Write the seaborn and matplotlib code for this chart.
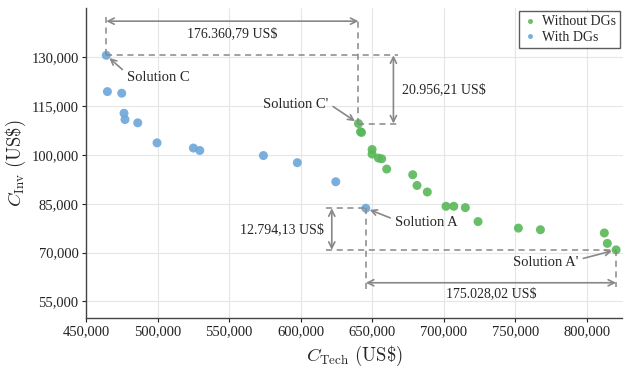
import pandas as pd
import seaborn as sns
import matplotlib.pyplot as plt
from matplotlib.ticker import FuncFormatter

# Pareto points
with_x = [464000, 464800, 474800, 476400, 477100, 486000, 499500, 524900, 529400,
          573900, 597600, 624500, 645500]
with_y = [130600, 119450, 118950, 112800, 110860, 109850, 103700, 102100, 101350,
          99800, 97600, 91750, 83600]
without_x = [640361, 641800, 642500, 649900, 649900, 654300, 656600, 660100, 678300,
             681300, 688500, 701600, 707000, 715100, 724000, 752200, 767600, 812300,
             814400, 820528]
without_y = [109644, 107100, 106900, 101650, 100250, 99020, 98800, 95650, 93900,
             90600, 88600, 84200, 84200, 83800, 79500, 77500, 77000, 76000, 72800,
             70806]

x_ticks = [450000, 500000, 550000, 600000, 650000, 700000, 750000, 800000]
y_ticks = [55000, 70000, 85000, 100000, 115000, 130000]

df = pd.concat([
    pd.DataFrame({'x': without_x, 'y': without_y, 'Case': 'Without DGs'}),
    pd.DataFrame({'x': with_x, 'y': with_y, 'Case': 'With DGs'}),
])

sns.set_theme(style='whitegrid')
plt.rcParams['font.family'] = ['Liberation Serif', 'DejaVu Serif']
plt.rcParams['mathtext.fontset'] = 'cm'

fig = plt.figure(figsize=(6.25, 3.68), dpi=100)
ax = fig.add_axes([0.138, 0.137, 0.858, 0.84])

sns.scatterplot(data=df, x='x', y='y', hue='Case',
                palette={'Without DGs': '#58b858', 'With DGs': '#6ca7da'},
                s=42, alpha=0.9, edgecolor='none', ax=ax)

ax.set_xlim(450000, 825000)
ax.set_ylim(50000, 145000)
ax.set_xticks(x_ticks)
ax.set_yticks(y_ticks)
fmt = FuncFormatter(lambda v, p: f'{int(v):,}')
ax.xaxis.set_major_formatter(fmt)
ax.yaxis.set_major_formatter(fmt)
ax.tick_params(labelsize=10.5, colors='#222222', length=3, width=0.8, direction='out',
               left=True, bottom=True, pad=2.5)
ax.grid(color='#e6e6e6', linewidth=0.8)
for side in ['top', 'right']:
    ax.spines[side].set_visible(False)
for side in ['left', 'bottom']:
    ax.spines[side].set_color('#444444')
    ax.spines[side].set_linewidth(1.0)

ax.set_xlabel(r'$C_{\mathrm{Tech}}\ (\mathrm{US\$})$', fontsize=13.5, labelpad=4)
ax.set_ylabel(r'$C_{\mathrm{Inv}}\ (\mathrm{US\$})$', fontsize=13.5, labelpad=2)

leg = ax.legend(loc='upper right', fontsize=10, markerscale=0.55, frameon=True,
                fancybox=False, borderpad=0.3, handletextpad=0.3, handlelength=1.0,
                labelspacing=0.2, borderaxespad=0.2)
leg.get_frame().set_edgecolor('#333333')
leg.get_frame().set_linewidth(1.0)

gray = '#888888'
dash = dict(color=gray, linestyle=(0, (4, 3)), linewidth=1.1, zorder=1)
arr = dict(arrowstyle='<->', color=gray, lw=1.2, mutation_scale=11,
           shrinkA=0, shrinkB=0)

C = (with_x[0], with_y[0])
Cp = (without_x[0], without_y[0])
A = (with_x[-1], with_y[-1])
Ap = (without_x[-1], without_y[-1])

# C -> C' horizontal distance
ax.plot([C[0], C[0]], [C[1], 142400], **dash)
ax.plot([Cp[0], Cp[0]], [Cp[1], 142400], **dash)
ax.annotate('', xy=(C[0], 141100), xytext=(Cp[0], 141100), arrowprops=arr)
ax.text((C[0] + Cp[0]) / 2, 137200, '176.360,79 US$', ha='center', va='center',
        fontsize=10)

# C -> C' vertical distance
ax.plot([C[0], 668000], [C[1], C[1]], **dash)
ax.plot([Cp[0], 668000], [Cp[1], Cp[1]], **dash)
ax.annotate('', xy=(664800, C[1]), xytext=(664800, Cp[1]), arrowprops=arr)
ax.text(670500, (C[1] + Cp[1]) / 2, '20.956,21 US$', ha='left', va='center',
        fontsize=10)

# A -> A' vertical distance
ax.plot([618000, A[0]], [A[1], A[1]], **dash)
ax.plot([618000, Ap[0]], [Ap[1], Ap[1]], **dash)
ax.annotate('', xy=(621700, A[1]), xytext=(621700, Ap[1]), arrowprops=arr)
ax.text(616500, 76900, '12.794,13 US$', ha='right', va='center', fontsize=10)

# A -> A' horizontal distance
ax.plot([A[0], A[0]], [A[1], 58800], **dash)
ax.plot([Ap[0], Ap[0]], [Ap[1], 59500], **dash)
ax.annotate('', xy=(A[0], 60700), xytext=(Ap[0], 60700), arrowprops=arr)
ax.text((A[0] + Ap[0]) / 2, 57300, '175.028,02 US$', ha='center', va='center',
        fontsize=10)

# solution labels
lab = dict(arrowstyle='->', color=gray, lw=1.2, mutation_scale=10, shrinkA=1, shrinkB=3)
ax.annotate('Solution C', xy=C, xytext=(478300, 123650), ha='left', va='center',
            fontsize=10.5, arrowprops=dict(lab, relpos=(0.0, 0.85)))
ax.annotate("Solution C'", xy=Cp, xytext=(596700, 115370), ha='center', va='center',
            fontsize=10.5, arrowprops=dict(lab, relpos=(1.0, 0.6)))
ax.annotate('Solution A', xy=A, xytext=(665800, 79080), ha='left', va='center',
            fontsize=10.5, arrowprops=dict(lab, relpos=(0.0, 0.75)))
ax.annotate("Solution A'", xy=Ap, xytext=(771500, 67025), ha='center', va='center',
            fontsize=10.5, arrowprops=dict(lab, relpos=(1.0, 0.7)))

plt.savefig('out.png', dpi=100)
